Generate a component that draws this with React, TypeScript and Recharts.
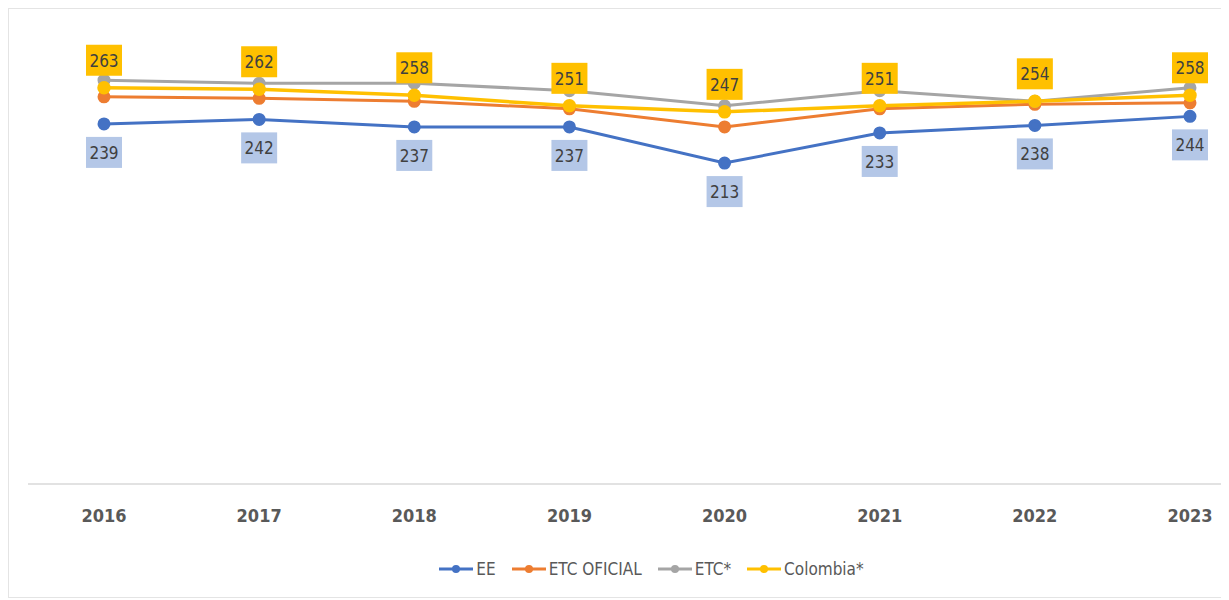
import { LabelList, Legend, Line, LineChart, XAxis, YAxis } from "recharts";

const years = ["2016", "2017", "2018", "2019", "2020", "2021", "2022", "2023"];
const ee = [239, 242, 237, 237, 213, 233, 238, 244];
const etcOficial = [257, 256, 254, 249, 237, 249, 252, 253];
const etc = [268, 266, 266, 261, 251, 261, 254, 263];
const colombia = [263, 262, 258, 251, 247, 251, 254, 258];

const series = [
  { key: "ee", name: "EE", color: "#4472C4" },
  { key: "etcOficial", name: "ETC OFICIAL", color: "#ED7D31" },
  { key: "etc", name: "ETC*", color: "#A5A5A5" },
  { key: "colombia", name: "Colombia*", color: "#FFC000" },
];

const data = years.map((year, i) => ({
  year,
  ee: ee[i],
  etcOficial: etcOficial[i],
  etc: etc[i],
  colombia: colombia[i],
}));

const FONT = '"Liberation Sans Narrow", "DejaVu Sans Condensed", Arial, sans-serif';

function boxLabel(fill: string, above: boolean) {
  return (props: any) => {
    const { x, y, value } = props;
    const top = above ? y - 43 : y + 13;
    return (
      <g>
        <rect x={x - 18} y={top} width={36} height={31} fill={fill} />
        <text
          x={x}
          y={top + 16}
          textAnchor="middle"
          dominantBaseline="central"
          fontFamily={FONT}
          fontSize={17}
          fill="#404040"
        >
          {value}
        </text>
      </g>
    );
  };
}

function LegendContent() {
  return (
    <div
      style={{
        display: "flex",
        justifyContent: "center",
        alignItems: "center",
        paddingLeft: 62,
        fontFamily: FONT,
        fontSize: 17,
        color: "#595959",
        height: 40,
      }}
    >
      {series.map((s) => (
        <div key={s.key} style={{ display: "flex", alignItems: "center", marginRight: 16 }}>
          <svg width={34} height={12} style={{ marginRight: 3 }}>
            <line x1={0} y1={6} x2={34} y2={6} stroke={s.color} strokeWidth={3} />
            <circle cx={17} cy={6} r={4} fill={s.color} />
          </svg>
          <span>{s.name}</span>
        </div>
      ))}
    </div>
  );
}

export default function App() {
  return (
    <div
      style={{
        width: 1221,
        height: 590,
        borderLeft: "1px solid #e4e4e4",
        borderTop: "1px solid #e4e4e4",
        borderBottom: "1px solid #e4e4e4",
        boxSizing: "border-box",
        background: "#fff",
      }}
    >
      <style>{"html,body{overflow:hidden}"}</style>
      <LineChart
        width={1220}
        height={588}
        data={data}
        margin={{ top: 23, right: 0, bottom: 8, left: 19 }}
      >
        <XAxis
          dataKey="year"
          padding={{ left: 76, right: 39 }}
          axisLine={{ stroke: "#d9d9d9", strokeWidth: 1.5 }}
          tickLine={false}
          tickSize={0}
          tickMargin={25}
          height={65}
          tick={{ fill: "#595959", fontSize: 18, fontWeight: "bold", fontFamily: FONT }}
        />
        <YAxis hide domain={[0, 300]} />
        <Legend verticalAlign="bottom" height={40} content={<LegendContent />} />
        <Line
          dataKey="ee"
          name="EE"
          stroke="#4472C4"
          strokeWidth={3}
          dot={{ r: 5, fill: "#4472C4", stroke: "#4472C4" }}
          isAnimationActive={false}
        >
          <LabelList dataKey="ee" content={boxLabel("#B4C7E7", false)} />
        </Line>
        <Line
          dataKey="etcOficial"
          name="ETC OFICIAL"
          stroke="#ED7D31"
          strokeWidth={3}
          dot={{ r: 5, fill: "#ED7D31", stroke: "#ED7D31" }}
          isAnimationActive={false}
        />
        <Line
          dataKey="etc"
          name="ETC*"
          stroke="#A5A5A5"
          strokeWidth={3}
          dot={{ r: 5, fill: "#A5A5A5", stroke: "#A5A5A5" }}
          isAnimationActive={false}
        />
        <Line
          dataKey="colombia"
          name="Colombia*"
          stroke="#FFC000"
          strokeWidth={3.5}
          dot={{ r: 5, fill: "#FFC000", stroke: "#FFC000" }}
          isAnimationActive={false}
        >
          <LabelList dataKey="colombia" content={boxLabel("#FFC000", true)} />
        </Line>
      </LineChart>
    </div>
  );
}
